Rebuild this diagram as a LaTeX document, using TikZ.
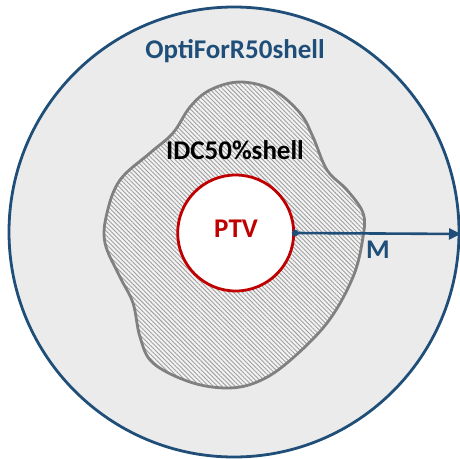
\documentclass[tikz,border=0pt]{standalone}
\usepackage{fontspec}
\setmainfont{Carlito}
\usetikzlibrary{patterns.meta,arrows.meta}
\definecolor{navyblue}{HTML}{1F4E79}
\definecolor{ptvred}{HTML}{C00000}
\definecolor{shellgray}{HTML}{EBEBEB}
\definecolor{blobedge}{HTML}{808080}
\definecolor{hatchgray}{HTML}{A0A0A0}
\tikzset{
  lbl/.style={font=\fontsize{27}{32}\selectfont\bfseries, inner sep=0pt},
  outershell/.style={circle, draw=navyblue, line width=2.8pt, fill=shellgray, inner sep=0pt},
  ptvbox/.style={circle, draw=ptvred, line width=2.8pt, fill=white, inner sep=0pt},
  radius arrow/.style={draw=navyblue, line width=2.6pt, -{Triangle[length=12pt,width=11pt]}},
}
\begin{document}
\begin{tikzpicture}[x=1pt,y=-1pt]
\useasboundingbox (0,0) rectangle (460,458);
\fill[white] (0,0) rectangle (460,458);

% outer optimisation shell
\node[outershell, minimum size=450pt] (outer) at (234,232) {};

% irregular intermediate-dose shell, hatched
\path[fill=shellgray!60!white] plot[smooth cycle, tension=0.6] coordinates {
  (240,82) (210,90) (190,107) (173,133) (150,153) (120,180) (107,213)
  (105,243) (120,277) (133,303) (140,337) (153,363) (190,382) (227,388)
  (257,382) (287,363) (327,323) (353,277) (363,237) (363,213) (347,190)
  (327,170) (313,137) (300,113) (273,90)};
\path[pattern={Lines[angle=-45,distance=3.1pt,line width=0.9pt]}, pattern color=hatchgray,
      draw=blobedge, line width=2.8pt] plot[smooth cycle, tension=0.6] coordinates {
  (240,82) (210,90) (190,107) (173,133) (150,153) (120,180) (107,213)
  (105,243) (120,277) (133,303) (140,337) (153,363) (190,382) (227,388)
  (257,382) (287,363) (327,323) (353,277) (363,237) (363,213) (347,190)
  (327,170) (313,137) (300,113) (273,90)};

% target volume
\node[ptvbox, minimum size=116pt] (ptv) at (235.7,233) {};
\node[lbl, text=ptvred] (ptvlabel) at (236,229) {PTV};

% labels
\node[lbl, text=navyblue] (optilabel) at (235,51) {OptiForR50shell};
\node[lbl, text=black] (idclabel) at (235,150) {IDC50\%shell};

% margin arrow
\coordinate (tip) at (461,234);
\draw[radius arrow] (ptv.east) -- (tip);
\fill[navyblue] (ptv.east) circle (3.4pt);
\node[lbl, text=navyblue] (mlabel) at (378,250) {M};
\end{tikzpicture}
\end{document}
